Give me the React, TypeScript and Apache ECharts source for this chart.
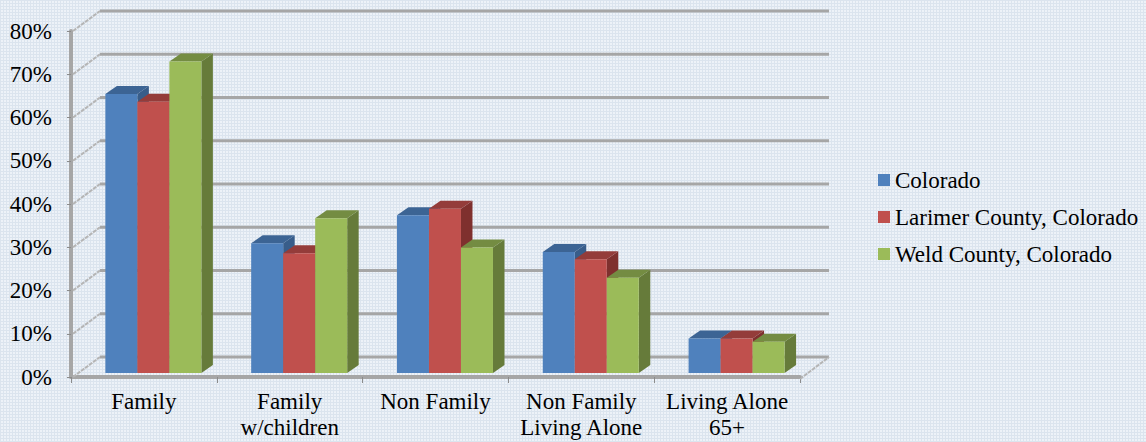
import React, { useEffect, useRef } from "react";
import * as echarts from "echarts";

const categories = ["Family", "Family\nw/children", "Non Family", "Non Family\nLiving Alone", "Living Alone\n65+"];
const colorado = [64.5, 30, 36.5, 28, 8];
const larimer = [62.7, 27.7, 38, 26.3, 8];
const weld = [72, 35.8, 29, 22, 7.2];
const wallTicks = [0, 10, 20, 30, 40, 50, 60, 70, 80];

const FONT = "'Liberation Serif', serif";
const GRID = "#a6a6a6";
const DEPTH_X = 29;
const DEPTH_Y = -20;

function barSeries(name: string, data: number[], idx: number, front: string, top: string, side: string) {
  return {
    name,
    type: "custom",
    data: data.map((v, i) => [i, v]),
    itemStyle: { color: front },
    z: 3,
    renderItem: (_p: any, api: any) => {
      const i = api.value(0);
      const v = api.value(1);
      const band = api.size([1, 0])[0];
      const w = band * 0.2195;
      const cx = api.coord([i, 0])[0] + band * 0.065;
      const x0 = cx - 1.5 * w + idx * w;
      const yBase = api.coord([i, 0])[1] - 4;
      const yTop = api.coord([i, v])[1] - 4;
      const dx = 11.5;
      const dy = -8;
      return {
        type: "group",
        children: [
          { type: "polygon", shape: { points: [[x0 + w, yTop], [x0 + w + dx, yTop + dy], [x0 + w + dx, yBase + dy], [x0 + w, yBase]] }, style: { fill: side } },
          { type: "polygon", shape: { points: [[x0, yTop], [x0 + dx, yTop + dy], [x0 + w + dx, yTop + dy], [x0 + w, yTop]] }, style: { fill: top } },
          { type: "rect", shape: { x: x0, y: yTop, width: w, height: yBase - yTop }, style: { fill: front } },
        ],
      };
    },
  };
}

export default function App() {
  const ref = useRef<HTMLDivElement>(null);
  useEffect(() => {
    document.body.style.margin = "0";
    const chart = echarts.init(ref.current!, undefined, { renderer: "svg" });
    chart.setOption({
      animation: false,
      textStyle: { fontFamily: FONT },
      grid: { left: 71, top: 31, width: 729, height: 346 },
      legend: {
        orient: "vertical",
        left: 873,
        top: 162,
        itemWidth: 12,
        itemHeight: 12,
        itemGap: 11,
        icon: "rect",
        data: ["Colorado", "Larimer County, Colorado", "Weld County, Colorado"],
        textStyle: { fontFamily: FONT, fontSize: 23, color: "#000", padding: [0, 0, 0, 0], lineHeight: 26 },
      },
      xAxis: {
        type: "category",
        data: categories,
        offset: 2,
        axisLine: { lineStyle: { color: GRID, width: 4 } },
        axisTick: { show: true, length: 6, lineStyle: { color: "#8c8c8c", width: 1 } },
        axisLabel: { interval: 0, fontFamily: FONT, fontSize: 23, color: "#000", lineHeight: 26, margin: 9 },
      },
      yAxis: {
        type: "value",
        min: 0,
        max: 80,
        interval: 10,
        axisLine: { show: true, lineStyle: { color: GRID, width: 4 } },
        axisTick: { show: true, length: 4, lineStyle: { color: "#8c8c8c", width: 1 } },
        axisLabel: { formatter: "{value}%", fontFamily: FONT, fontSize: 23, color: "#000", margin: 19, padding: [0, 0, 2, 0] },
        splitLine: { show: false },
      },
      series: [
        {
          type: "custom",
          name: "walls",
          z: 1,
          silent: true,
          data: wallTicks.map((t) => [0, t]),
          renderItem: (p: any, api: any) => {
            const v = api.value(1);
            const y = api.coord([0, v])[1];
            const cs = p.coordSys;
            const kids: any[] = [
              { type: "line", shape: { x1: cs.x + 2, y1: y, x2: cs.x + DEPTH_X, y2: y + DEPTH_Y }, style: { stroke: "#b5b5b5", lineWidth: 2, lineDash: [4, 1] } },
              { type: "line", shape: { x1: cs.x + DEPTH_X, y1: y + DEPTH_Y, x2: cs.x + cs.width + DEPTH_X, y2: y + DEPTH_Y }, style: { stroke: GRID, lineWidth: 3 } },
            ];
            if (v === 0) {
              kids.push({ type: "line", shape: { x1: cs.x + cs.width, y1: y + 2, x2: cs.x + cs.width + DEPTH_X, y2: y + DEPTH_Y }, style: { stroke: "#b5b5b5", lineWidth: 2, lineDash: [4, 1] } });
            }
            return { type: "group", children: kids };
          },
        },
        barSeries("Colorado", colorado, 0, "#4f81bd", "#3c6494", "#385d8a"),
        barSeries("Larimer County, Colorado", larimer, 1, "#c0504d", "#943c3a", "#7f302e"),
        barSeries("Weld County, Colorado", weld, 2, "#9bbb59", "#748c42", "#667b3a"),
      ],
    });
    return () => chart.dispose();
  }, []);
  return (
    <div
      ref={ref}
      style={{
        width: 1146,
        height: 442,
        backgroundColor: "#edf2f8",
        backgroundImage:
          "linear-gradient(to right, #dbe4ee 1px, transparent 1px), linear-gradient(to bottom, #dbe4ee 1px, transparent 1px)",
        backgroundSize: "3px 3px",
      }}
    />
  );
}
